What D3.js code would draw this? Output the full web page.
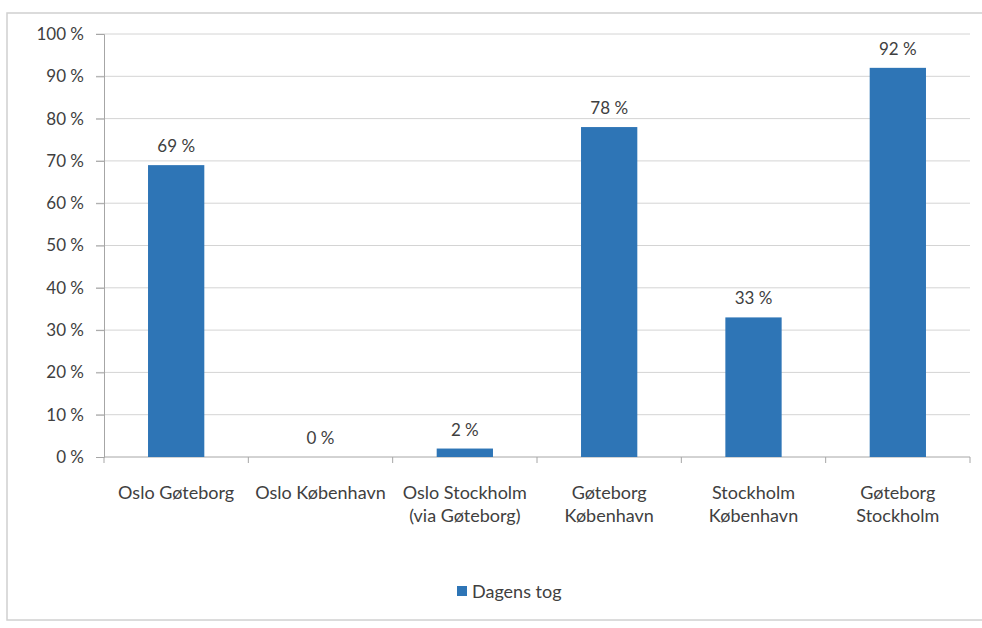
<!DOCTYPE html>
<html><head><meta charset="utf-8">
<script src="https://cdn.jsdelivr.net/npm/d3@7"></script>
<style>body{margin:0;background:#fff}svg{display:block}text{font-family:Lato,"Open Sans",sans-serif;fill:#404040}</style>
</head><body><svg id="c" width="982" height="628"></svg>
<script>
const categories = [["Oslo Gøteborg"],["Oslo København"],["Oslo Stockholm","(via Gøteborg)"],["Gøteborg","København"],["Stockholm","København"],["Gøteborg","Stockholm"]];
const values = [69, 0, 2, 78, 33, 92];
const yTicks = [0,10,20,30,40,50,60,70,80,90,100];
const seriesName = "Dagens tog";
const color = "#2e75b6";

const svg = d3.select("#c");
// chart border
svg.append("rect").attr("x",7).attr("y",13).attr("width",990).attr("height",607)
  .attr("fill","none").attr("stroke","#d0d0d0").attr("stroke-width",1.5);

const m = {l:104, r:970, t:34, b:457};
const x = d3.scaleBand().domain(d3.range(categories.length)).range([m.l,m.r]).paddingInner(0.61).paddingOuter(0.305);
const y = d3.scaleLinear().domain([0,100]).range([m.b,m.t]);

// gridlines
svg.append("g").selectAll("line").data(yTicks.filter(d=>d>0)).join("line")
  .attr("x1",m.l-8).attr("x2",m.r).attr("y1",d=>y(d)).attr("y2",d=>y(d))
  .attr("stroke","#d4d4d4").attr("stroke-width",1);

// y axis
const ya = svg.append("g").attr("transform",`translate(${m.l},0)`)
  .call(d3.axisLeft(y).tickValues(yTicks).tickFormat(d=>d+" %").tickSize(8).tickPadding(12));
ya.select(".domain").attr("stroke","#a6a6a6");
ya.selectAll(".tick line").attr("stroke","#a6a6a6");
ya.selectAll("text").attr("font-size",17).attr("font-family","Lato").style("fill","#404040");

// x axis boundaries
const xb = d3.scaleLinear().domain([0,categories.length]).range([m.l,m.r]);
svg.append("line").attr("x1",m.l).attr("x2",m.r).attr("y1",m.b).attr("y2",m.b).attr("stroke","#a6a6a6");
svg.append("g").selectAll("line").data(d3.range(categories.length+1)).join("line")
  .attr("x1",d=>xb(d)).attr("x2",d=>xb(d)).attr("y1",m.b).attr("y2",m.b+6).attr("stroke","#a6a6a6");

// bars
svg.append("g").selectAll("rect").data(values).join("rect")
  .attr("x",(d,i)=>x(i)).attr("width",x.bandwidth())
  .attr("y",d=>y(d)).attr("height",d=>m.b-y(d)).attr("fill",color);

// value labels
svg.append("g").selectAll("text").data(values).join("text")
  .attr("x",(d,i)=>x(i)+x.bandwidth()/2).attr("y",d=>y(d)-13)
  .attr("text-anchor","middle").attr("font-size",17).text(d=>d+" %");

// category labels
const cl = svg.append("g").selectAll("text").data(categories).join("text")
  .attr("x",(d,i)=>x(i)+x.bandwidth()/2).attr("y",499)
  .attr("text-anchor","middle").attr("font-size",18);
cl.selectAll("tspan").data(d=>d).join("tspan")
  .attr("x",function(){return this.parentNode.getAttribute("x");})
  .attr("dy",(d,i)=>i===0?0:23).text(d=>d);

// legend
svg.append("rect").attr("x",457).attr("y",586).attr("width",10).attr("height",10).attr("fill",color);
svg.append("text").attr("x",472).attr("y",598).attr("font-size",18).text(seriesName);
</script></body></html>
